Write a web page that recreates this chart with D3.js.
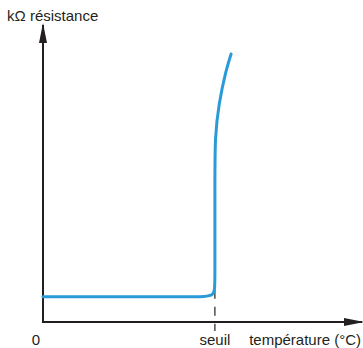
<!DOCTYPE html>
<html>
<head>
<meta charset="utf-8">
<script src="https://cdn.jsdelivr.net/npm/d3@7"></script>
<style>
  body { margin: 0; background: #fff; }
  text { font-family: "Liberation Sans", Arial, sans-serif; font-size: 15px; fill: #231f20; }
</style>
</head>
<body>
<svg id="chart"></svg>
<script>
// schematic curve: temperature (arbitrary units) vs resistance (arbitrary units)
// points are B-spline control points, so the corner and the upper bend come out smooth
const TEMPERATURE = [0, 52, 57.3, 57.3, 57.3, 57.3, 58.6, 61, 62.7];
const RESISTANCE = [9, 9, 9, 14, 50, 66, 78, 90, 95.7];
const SEUIL = 57.3;
const LABELS = {
  y: "kΩ résistance",
  x: "température (°C)",
  origin: "0",
  seuil: "seuil",
};

const width = 363;
const height = 348;

const svg = d3.select("#chart").attr("width", width).attr("height", height);

const x = d3.scaleLinear().domain([0, 100]).range([43, 343]);
const y = d3.scaleLinear().domain([0, 100]).range([322, 42]);

const data = TEMPERATURE.map((t, i) => ({ t, r: RESISTANCE[i] }));

// arrow marker
const defs = svg.append("defs");
defs.append("marker")
  .attr("id", "arrow")
  .attr("viewBox", "0 0 20 8")
  .attr("refX", 18)
  .attr("refY", 4)
  .attr("markerUnits", "userSpaceOnUse")
  .attr("markerWidth", 20)
  .attr("markerHeight", 8)
  .attr("orient", "auto")
  .append("path")
  .attr("d", "M0,0 L20,4 L0,8 Z")
  .attr("fill", "#231f20");

// axes
svg.append("line")
  .attr("x1", x(0)).attr("y1", y(0))
  .attr("x2", 362).attr("y2", y(0))
  .attr("stroke", "#231f20").attr("stroke-width", 2)
  .attr("marker-end", "url(#arrow)");

svg.append("line")
  .attr("x1", x(0)).attr("y1", y(0) + 1)
  .attr("x2", x(0)).attr("y2", 25)
  .attr("stroke", "#231f20").attr("stroke-width", 2)
  .attr("marker-end", "url(#arrow)");

// dashed threshold marker
svg.append("line")
  .attr("x1", x(SEUIL)).attr("y1", y(11.5))
  .attr("x2", x(SEUIL)).attr("y2", y(0) + 9)
  .attr("stroke", "#231f20").attr("stroke-width", 1.2)
  .attr("stroke-dasharray", "9,8");

// resistance curve
const line = d3.line()
  .x(d => x(d.t))
  .y(d => y(d.r))
  .curve(d3.curveBasis);

svg.append("path")
  .datum(data)
  .attr("d", line)
  .attr("fill", "none")
  .attr("stroke", "#2b9bd8")
  .attr("stroke-width", 3)
  .attr("stroke-linecap", "round");

// labels
svg.append("text").attr("x", 7).attr("y", 21).text(LABELS.y);
svg.append("text").attr("x", 36).attr("y", 345)
  .attr("text-anchor", "middle").text(LABELS.origin);
svg.append("text").attr("x", x(SEUIL)).attr("y", 345)
  .attr("text-anchor", "middle").text(LABELS.seuil);
svg.append("text").attr("x", 361).attr("y", 345)
  .attr("text-anchor", "end").text(LABELS.x);
</script>
</body>
</html>
